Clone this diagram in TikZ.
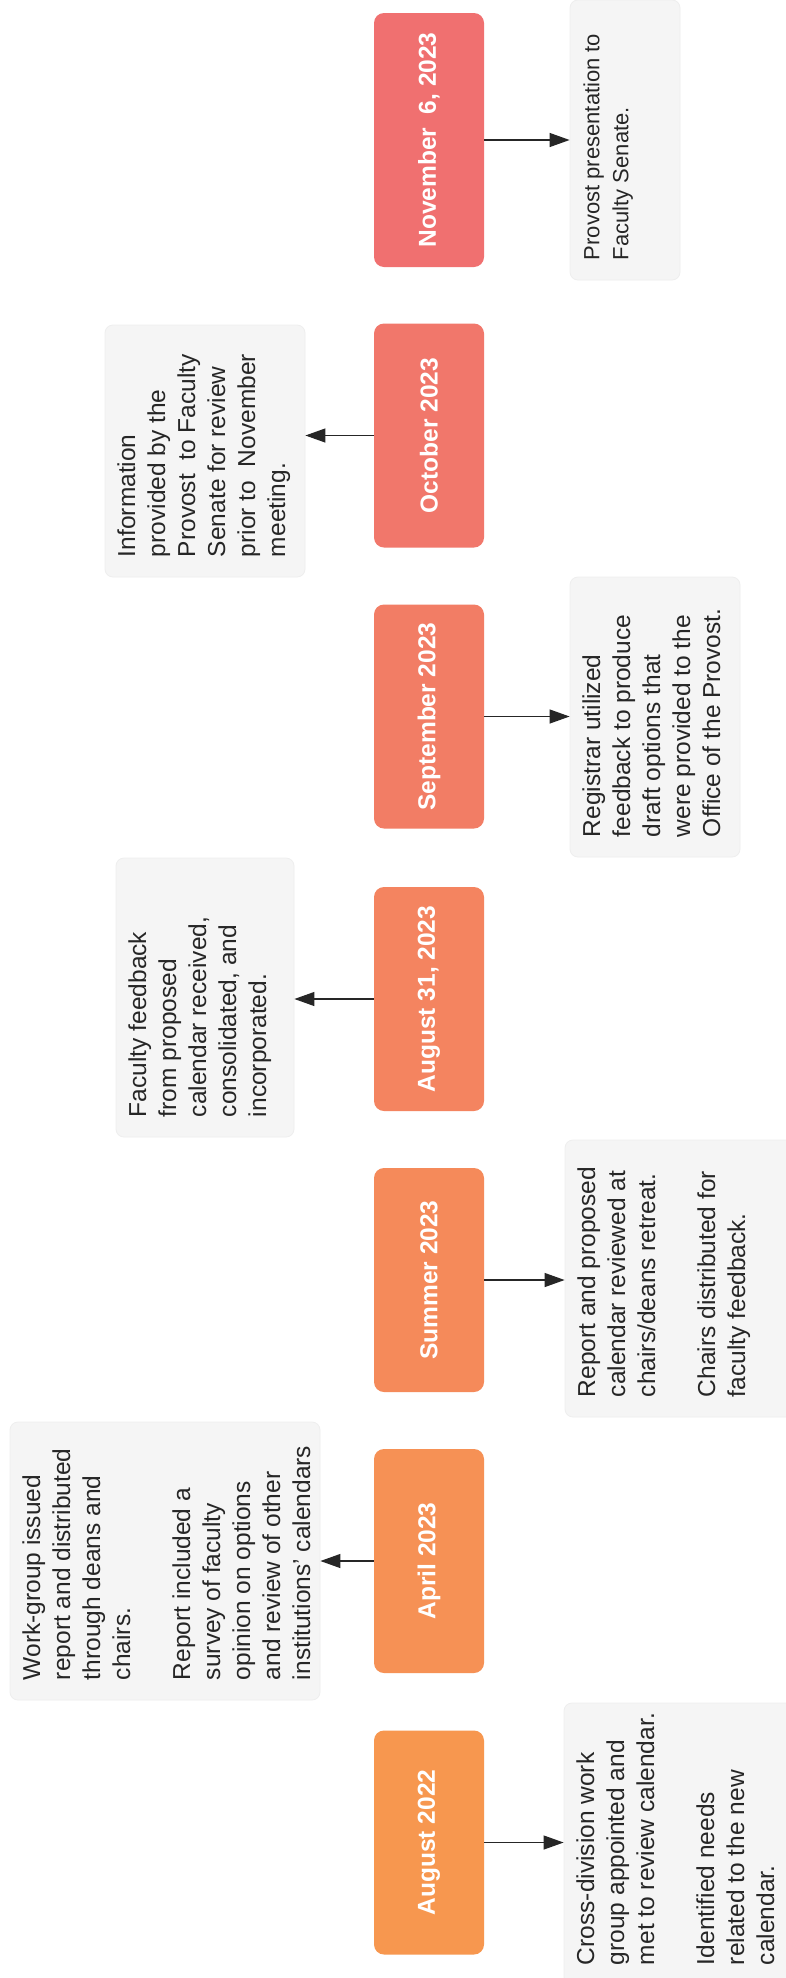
\documentclass[tikz,border=0pt]{standalone}
\usepackage{fontspec}
\setmainfont{Liberation Sans}
\usetikzlibrary{arrows.meta}
\definecolor{dA}{RGB}{247,151,79}
\definecolor{dB}{RGB}{246,145,85}
\definecolor{dC}{RGB}{245,138,90}
\definecolor{dD}{RGB}{244,132,96}
\definecolor{dE}{RGB}{242,125,101}
\definecolor{dF}{RGB}{241,119,107}
\definecolor{dG}{RGB}{240,112,112}
\definecolor{notefill}{RGB}{245,245,245}
\definecolor{noteline}{RGB}{238,238,238}
\definecolor{inkc}{RGB}{38,38,38}
\newcommand{\notebody}[3]{\begin{minipage}[c][#2][t]{#1}\begin{tabular}[t]{@{}l@{}}#3\end{tabular}\end{minipage}}
\begin{document}
\begin{tikzpicture}[x=1pt,y=-1pt,
  datebox/.style={rotate=90, rounded corners=10pt, minimum height=110pt, minimum width=224pt, inner sep=0pt, text=white, font=\fontsize{24.5}{30}\selectfont\bfseries},
  notebox/.style={rotate=90, rounded corners=8pt, fill=notefill, draw=noteline, line width=0.8pt, inner xsep=20pt, inner ysep=9pt, text=inkc, font=\fontsize{24.5}{30}\selectfont},
  conn/.style={draw=inkc, line width=1.2pt, -{Triangle[length=20pt,width=14pt]}}]
\useasboundingbox (0,0) rectangle (786,1978);
\clip (0,0) rectangle (786,1978);
\fill[white] (0,0) rectangle (786,1978);

% date boxes
\node[datebox, fill=dA] (aug22) at (429,1842.5) {August 2022};
\node[datebox, fill=dB] (apr) at (429,1561) {April 2023};
\node[datebox, fill=dC] (sum) at (429,1280) {Summer 2023};
\node[datebox, fill=dD] (aug31) at (429,999) {August 31, 2023};
\node[datebox, fill=dE] (sep) at (429,716.5) {September 2023};
\node[datebox, fill=dF] (oct) at (429,435.5) {October 2023};
\node[datebox, fill=dG, minimum width=254pt] (nov) at (429,140) {November~~6, 2023};

% note boxes
\node[notebox, font=\fontsize{22}{29}\selectfont] (provost) at (625,140)
  {\notebody{240pt}{92pt}{Provost presentation to\\ Faculty Senate.}};
\node[notebox] (registrar) at (655,717)
  {\notebody{240pt}{152pt}{Registrar utilized\\ feedback to produce\\ draft options that\\ were provided to the\\ Office of the Provost.}};
\node[notebox] (sumnote) at (682.5,1278.5)
  {\notebody{237pt}{217pt}{Report and proposed\\ calendar reviewed at\\ chairs/deans retreat.\\[30pt] Chairs distributed for\\ faculty feedback.}};
\node[notebox] (augnote) at (682,1844)
  {\notebody{242pt}{218pt}{Cross-division work\\ group appointed and\\ met to review calendar.\\[30pt] Identified needs\\ related to the new\\ calendar.}};
\node[notebox] (info) at (205,451)
  {\notebody{212pt}{182pt}{Information\\ provided by the\\ Provost~~to Faculty\\ Senate for review\\ prior to~~November\\ meeting.}};
\node[notebox] (faculty) at (205,997.5)
  {\notebody{239pt}{160pt}{Faculty feedback\\ from proposed\\ calendar received,\\ consolidated, and\\ incorporated.}};
\node[notebox] (work) at (165,1561)
  {\notebody{238pt}{292pt}{Work-group issued\\ report and distributed\\ through deans and\\ chairs.\\[30pt] Report included a\\ survey of faculty\\ opinion on options\\ and review of other\\ institutions' calendars}};

% connectors
\draw[conn] (nov.south) -- (nov.south -| provost.north);
\draw[conn] (oct.north) -- (oct.north -| info.south);
\draw[conn] (sep.south) -- (sep.south -| registrar.north);
\draw[conn] (aug31.north) -- (aug31.north -| faculty.south);
\draw[conn] (sum.south) -- (sum.south -| sumnote.north);
\draw[conn] (apr.north) -- (apr.north -| work.south);
\draw[conn] (aug22.south) -- (aug22.south -| augnote.north);
\end{tikzpicture}
\end{document}
